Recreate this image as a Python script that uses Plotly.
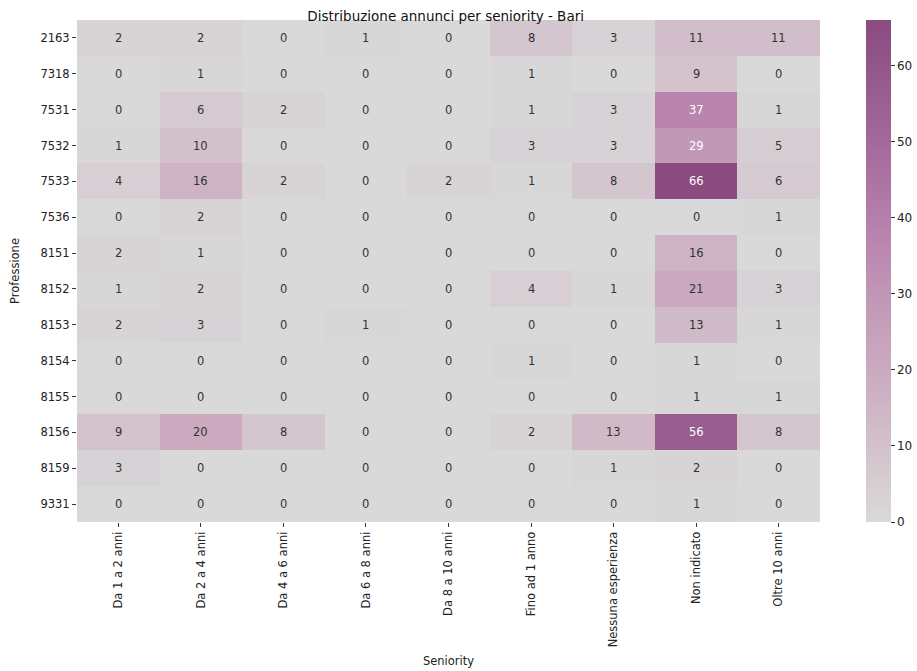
import plotly.graph_objects as go

seniority = ["Da 1 a 2 anni", "Da 2 a 4 anni", "Da 4 a 6 anni", "Da 6 a 8 anni",
             "Da 8 a 10 anni", "Fino ad 1 anno", "Nessuna esperienza",
             "Non indicato", "Oltre 10 anni"]
professioni = ["2163", "7318", "7531", "7532", "7533", "7536", "8151",
               "8152", "8153", "8154", "8155", "8156", "8159", "9331"]

conteggi = [
    [2, 2, 0, 1, 0, 8, 3, 11, 11],
    [0, 1, 0, 0, 0, 1, 0, 9, 0],
    [0, 6, 2, 0, 0, 1, 3, 37, 1],
    [1, 10, 0, 0, 0, 3, 3, 29, 5],
    [4, 16, 2, 0, 2, 1, 8, 66, 6],
    [0, 2, 0, 0, 0, 0, 0, 0, 1],
    [2, 1, 0, 0, 0, 0, 0, 16, 0],
    [1, 2, 0, 0, 0, 4, 1, 21, 3],
    [2, 3, 0, 1, 0, 0, 0, 13, 1],
    [0, 0, 0, 0, 0, 1, 0, 1, 0],
    [0, 0, 0, 0, 0, 0, 0, 1, 1],
    [9, 20, 8, 0, 0, 2, 13, 56, 8],
    [3, 0, 0, 0, 0, 0, 1, 2, 0],
    [0, 0, 0, 0, 0, 0, 0, 1, 0],
]

vmax = max(max(r) for r in conteggi)
xi = list(range(len(seniority)))
yi = list(range(len(professioni)))

W, H = 917, 671
ML, MR, MT, MB = 77, 97, 20, 149
plot_w = W - ML - MR

# grey -> mauve -> plum colour ramp
colorscale = [
    [0.00, "#d9d9d9"],
    [0.15, "#d3c1cb"],
    [0.30, "#cbaac0"],
    [0.45, "#c197b6"],
    [0.60, "#b67fac"],
    [0.75, "#a46a9c"],
    [0.90, "#93578a"],
    [1.00, "#8a4b80"],
]

fig = go.Figure(go.Heatmap(
    z=conteggi, x=xi, y=yi,
    colorscale=colorscale, zmin=0, zmax=vmax,
    colorbar=dict(
        thickness=25, thicknessmode="pixels",
        len=1, lenmode="fraction",
        x=(866 - ML) / plot_w, xanchor="left", xpad=0,
        y=0, yanchor="bottom", ypad=0,
        outlinewidth=0,
        tickvals=[0, 10, 20, 30, 40, 50, 60], ticks="outside", ticklen=4,
        tickcolor="#333", tickfont=dict(size=12, color="#222"),
    ),
    customdata=[[f"{p} / {s}" for s in seniority] for p in professioni],
    hovertemplate="%{customdata}: %{z}<extra></extra>",
))

annotations = []
for i in yi:
    for j in xi:
        v = conteggi[i][j]
        annotations.append(dict(
            x=j, y=i, text=str(v), showarrow=False,
            font=dict(size=11.5, color="#ffffff" if v >= 25 else "#333333"),
        ))

fig.update_layout(
    width=W, height=H,
    margin=dict(l=ML, r=MR, t=MT, b=MB, autoexpand=False),
    paper_bgcolor="white", plot_bgcolor="white",
    font=dict(family="DejaVu Sans", size=12, color="#222"),
    title=dict(text="Distribuzione annunci per seniority - Bari",
               x=0.486, xanchor="center", y=0.976, yanchor="middle",
               font=dict(size=13.5, color="#111")),
    annotations=annotations,
    xaxis=dict(
        title=dict(text="Seniority", font=dict(size=11.5), standoff=10),
        tickmode="array", tickvals=xi, ticktext=seniority,
        range=[-0.5, len(seniority) - 0.5], automargin=False,
        tickangle=-90, ticks="outside", ticklen=4, tickcolor="#333",
        tickfont=dict(size=11.5), showgrid=False, zeroline=False,
    ),
    yaxis=dict(
        title=dict(text="Professione", font=dict(size=11.5), standoff=18),
        tickmode="array", tickvals=yi, ticktext=professioni,
        range=[len(professioni) - 0.5, -0.5], automargin=False,
        ticks="outside", ticklen=4, tickcolor="#333",
        tickfont=dict(size=11.5), showgrid=False, zeroline=False,
    ),
)

fig.write_html("out.html")
